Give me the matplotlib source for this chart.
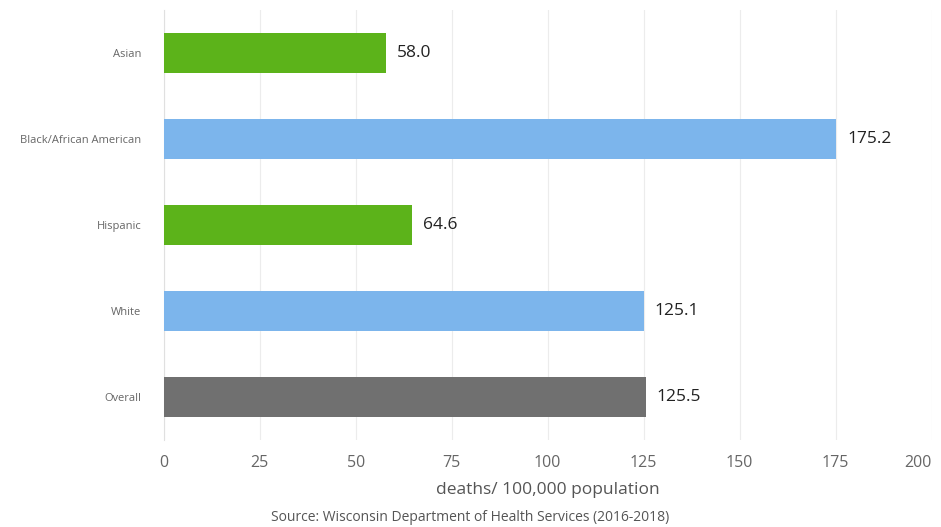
import matplotlib.pyplot as plt

# data
categories = ["Asian", "Black/African American", "Hispanic", "White", "Overall"]
rates = [58.0, 175.2, 64.6, 125.1, 125.5]
bar_colors = ["#5cb31a", "#7cb5ec", "#5cb31a", "#7cb5ec", "#707070"]
x_ticks = [0, 25, 50, 75, 100, 125, 150, 175, 200]

plt.rcParams["font.family"] = ["Open Sans", "DejaVu Sans"]

fig = plt.figure(figsize=(9.41, 5.27), dpi=100)
ax = fig.add_axes([0.174, 0.165, 0.816, 0.816])

y = list(range(len(categories)))
ax.barh(y, rates, height=0.47, color=bar_colors, zorder=3)

for yi, v in zip(y, rates):
    ax.text(v + 2.8, yi, f"{v:.1f}", va="center", ha="left",
            fontsize=12.5, color="#222222", zorder=4)

ax.set_ylim(len(categories) - 0.5, -0.5)
ax.set_yticks(y)
ax.set_yticklabels(categories, fontsize=8, color="#666666")
ax.set_xlim(0, 200)
ax.set_xticks(x_ticks)
ax.set_xticklabels([str(t) for t in x_ticks], fontsize=11.5, color="#666666")
ax.get_xticklabels()[-1].set_horizontalalignment("right")
ax.tick_params(axis="both", length=0)
ax.tick_params(axis="y", pad=16)
ax.tick_params(axis="x", pad=11)

ax.grid(axis="x", color="#ececec", linewidth=0.8, zorder=0)
for side in ["top", "right", "bottom"]:
    ax.spines[side].set_visible(False)
ax.spines["left"].set_color("#e0e0e0")

ax.set_xlabel("deaths/ 100,000 population", fontsize=12.5, color="#555555", labelpad=8)
fig.text(0.5, 0.004, "Source: Wisconsin Department of Health Services (2016-2018)",
         ha="center", va="bottom", fontsize=10, color="#555555")

fig.savefig("out.png", dpi=100)
